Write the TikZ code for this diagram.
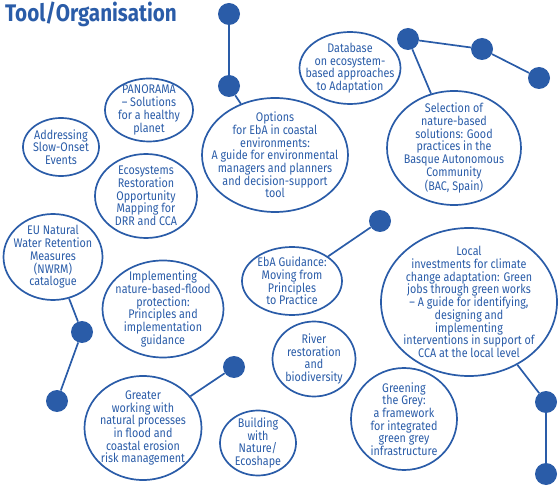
\documentclass[tikz,border=0pt]{standalone}
\usepackage{fontspec}
\setmainfont{Fira Sans}[FakeStretch=0.86]
\usetikzlibrary{shapes.geometric}
\definecolor{tblue}{RGB}{42,92,168}
\tikzset{
  bubble/.style={draw=tblue, line width=1.7pt, ellipse, inner sep=0pt},
  btext/.style={text=tblue, align=center, font=\fontsize{12.5}{12.7}\selectfont, inner sep=0pt},
  dot/.style={circle, fill=tblue, minimum size=22pt, inner sep=0pt},
  link/.style={draw=tblue, line width=1.7pt},
}
\newcommand{\bub}[6]{\node[bubble, minimum width=#4pt, minimum height=#5pt] (#1) at (#2,#3) {};
  \node[btext] (#1t) at (#1.center) {#6};}
\begin{document}
\begin{tikzpicture}[x=1pt,y=-1pt]
\useasboundingbox (0,0) rectangle (560,489);
\node[text=tblue, anchor=base west, inner sep=0pt, font=\fontsize{24}{26}\selectfont\bfseries] (title) at (5,22) {Tool/Organisation};

\bub{pan}{149}{110}{88}{63}{PANORAMA\\– Solutions\\for a healthy\\planet}
\bub{slow}{61}{147}{76}{58}{Addressing\\Slow-Onset\\Events}
\bub{eco}{146}{196}{102}{84}{Ecosystems\\Restoration\\Opportunity\\Mapping for\\DRR and CCA}
\bub{eu}{53}{257}{99}{86}{EU Natural\\Water Retention\\Measures\\(NWRM)\\catalogue}
\bub{opt}{275}{155}{146}{114}{Options\\for EbA in coastal\\environments:\\A guide for environmental\\managers and planners\\and decision-support\\tool}
\bub{db}{350}{68}{101}{72}{Database\\on ecosystem-\\based approaches\\to Adaptation}
\bub{sel}{454}{148}{134}{114}{Selection of\\nature-based\\solutions: Good\\practices in the\\Basque Autonomous\\Community\\(BAC, Spain)}
\bub{eba}{292}{281}{100}{68}{EbA Guidance:\\Moving from\\Principles\\to Practice}
\bub{loc}{469}{302}{176}{148}{Local\\investments for climate\\change adaptation: Green\\jobs through green works\\– A guide for identifying,\\designing and\\implementing\\interventions in support of\\CCA at the local level}
\bub{imp}{163}{309}{121}{97}{Implementing\\nature-based-flood\\protection:\\Principles and\\implementation\\guidance}
\bub{riv}{314}{359}{83}{75}{River\\restoration\\and\\biodiversity}
\bub{grt}{143}{428}{117}{104}{Greater\\working with\\natural processes\\in flood and\\coastal erosion\\risk management}
\bub{bwn}{258}{443}{76}{65}{Building\\with\\Nature/\\Ecoshape}
\bub{gg}{404}{419}{106}{102}{Greening\\the Grey:\\a framework\\for integrated\\green grey\\infrastructure}

\node[dot] (d1) at (229,14) {};
\node[dot] (d2) at (229,86) {};
\node[dot] (d3) at (408,39) {};
\node[dot] (d4) at (482,49) {};
\node[dot] (d5) at (539,78) {};
\node[dot] (d6) at (380,221) {};
\node[dot] (d7) at (82,332) {};
\node[dot] (d8) at (57,401) {};
\node[dot] (d9) at (234,367) {};
\node[dot] (d10) at (546,402) {};
\node[dot] (d11) at (546,474) {};

\draw[link] (d1) -- (d2);
\draw[link] (d2) -- (opt);
\draw[link] (d3) -- (d4);
\draw[link] (d4) -- (d5);
\draw[link] (d3) -- (sel);
\draw[link] (d6) -- (eba);
\draw[link] (eu) -- (d7);
\draw[link] (d7) -- (d8);
\draw[link] (d9) -- (grt);
\draw[link] (loc) -- (d10);
\draw[link] (d10) -- (d11);
\end{tikzpicture}
\end{document}
